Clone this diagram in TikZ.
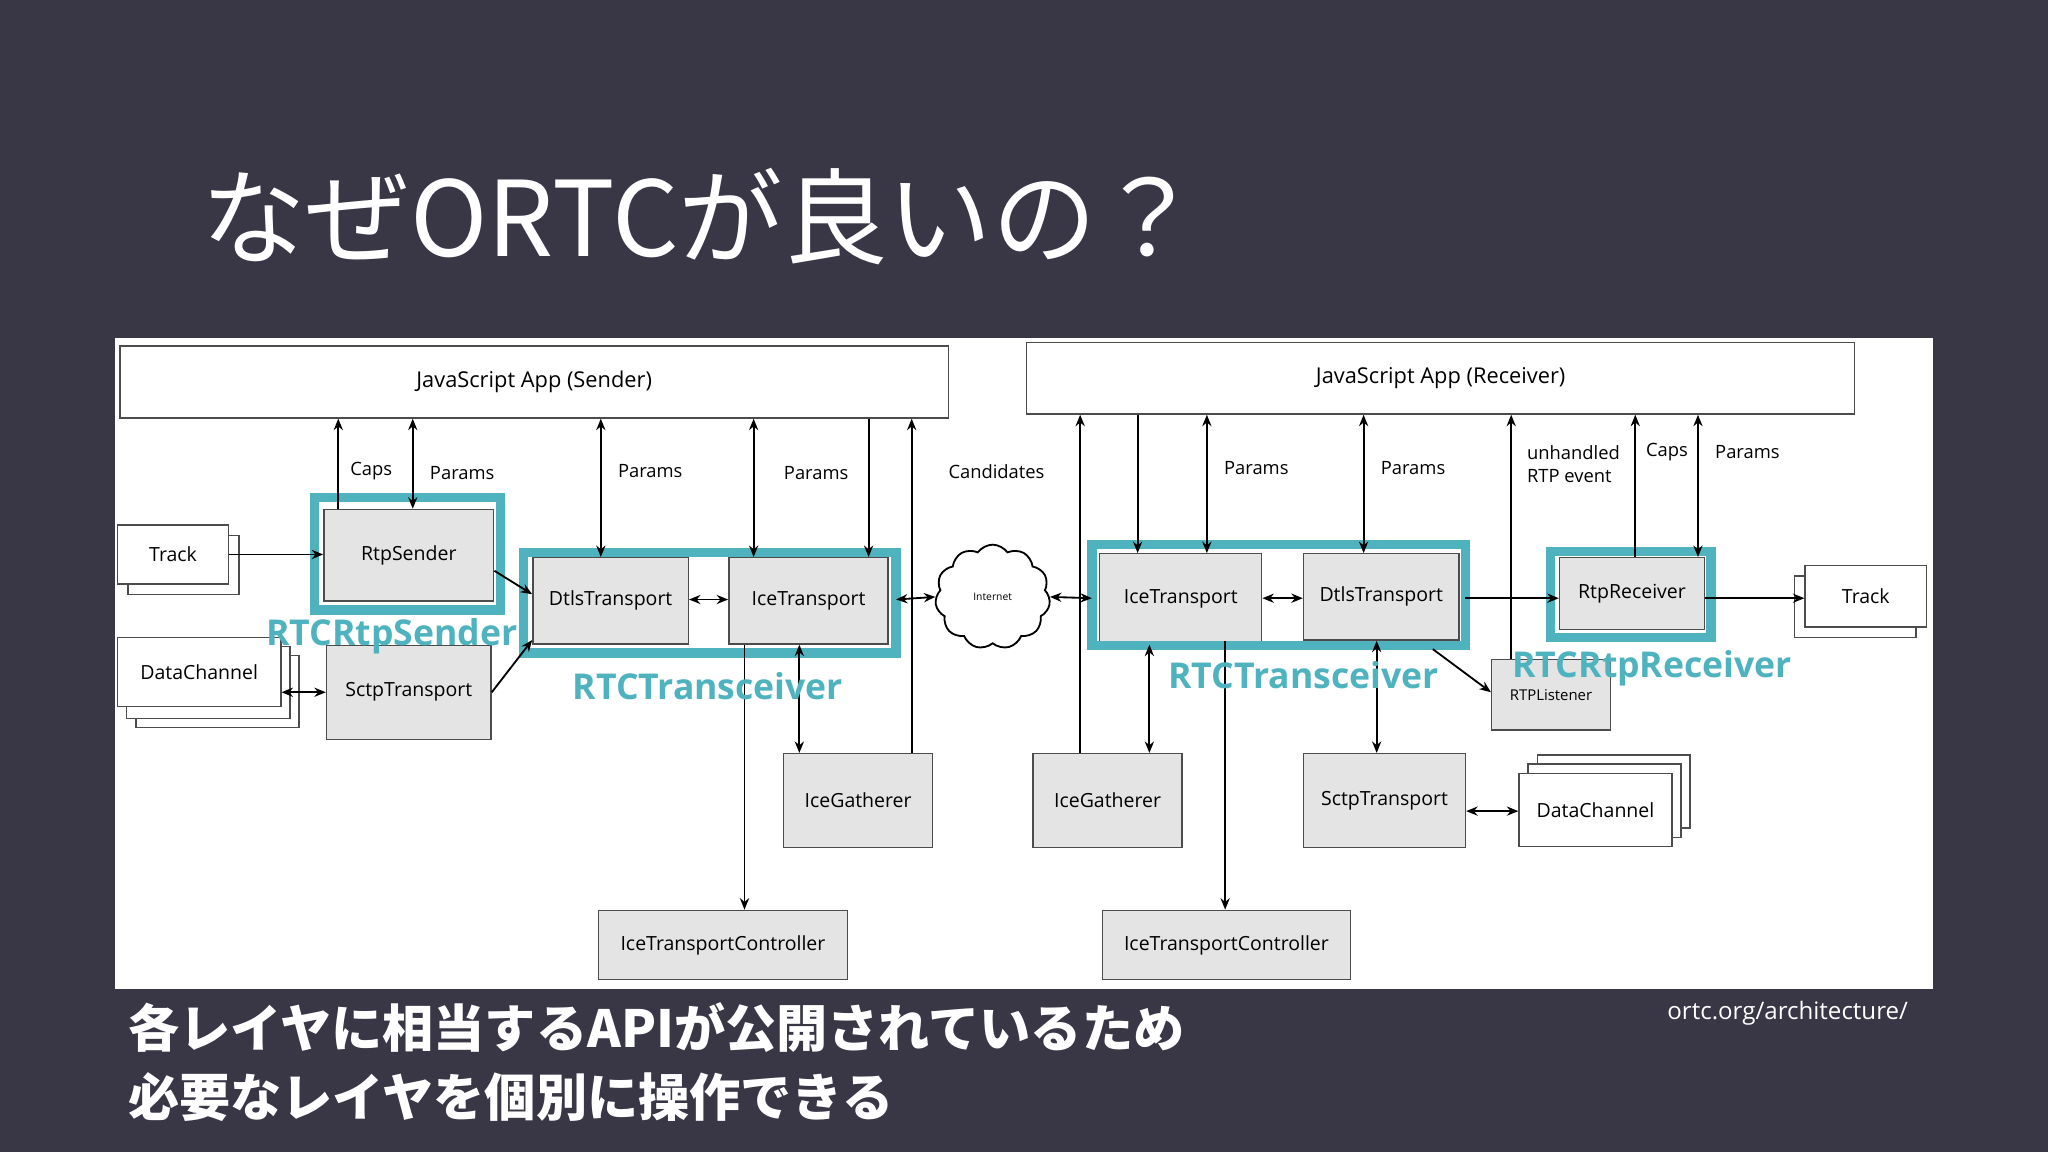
\documentclass[tikz,border=0pt]{standalone}
\usepackage{fontspec}
\setmainfont{Open Sans}
\newfontfamily\cjk{Noto Sans CJK JP}
\usetikzlibrary{arrows.meta,shapes.symbols}
\definecolor{bg}{HTML}{393646}
\definecolor{teal}{HTML}{4FB3BF}
\definecolor{gbox}{HTML}{E4E4E4}
\begin{document}
\begin{tikzpicture}[x=0.02cm,y=-0.02cm,>={Stealth[length=5pt,width=4pt]},
 box/.style={draw=black!70,fill=gbox,line width=0.6pt,inner sep=0pt,font=\fontsize{8.5}{10}\selectfont},
 wbox/.style={box,fill=white},
 tl/.style={draw=teal,line width=4pt,fill=none},
 tt/.style={text=teal,font=\bfseries\fontsize{15.5}{18}\selectfont},
 lab/.style={font=\fontsize{8}{10}\selectfont,align=left},
 ln/.style={line width=0.8pt}]
\newcommand\bx[7][box]{\node[#1,minimum width={(#5-#3)*0.02cm},minimum height={(#6-#4)*0.02cm}] (#2) at ({(#3+#5)/2},{(#4+#6)/2}) {#7};}
\fill[bg] (0,0) rectangle (1568,882);
\useasboundingbox (0,0) rectangle (1568,882);
\fill[white] (88,259) rectangle (1480,757);
\node[anchor=west,text=white,font=\cjk\fontsize{45.5}{50}\selectfont] (title) at (148,166) {なぜORTCが良いの？};
% apps
\bx[wbox]{app}{92}{265}{726}{320}{\fontsize{9.5}{11}\selectfont JavaScript App (Sender)}
\bx[wbox]{appr}{786}{262}{1420}{317}{\fontsize{9.5}{11}\selectfont JavaScript App (Receiver)}
% sender side
\bx[wbox]{trs}{98}{410}{183}{455}{}
\bx[wbox]{tr}{90}{402}{175}{447}{Track}
\bx[wbox]{dc3}{104}{502}{229}{557}{}
\bx[wbox]{dc2}{97}{495}{222}{550}{}
\bx[wbox]{dc}{90}{488}{215}{541}{DataChannel}
\bx{rs}{248}{390}{378}{460}{RtpSender}
\draw[tl] (241,381) rectangle (383,467);
\bx{sctp}{250}{494}{376}{566}{SctpTransport}
\bx{dtls}{408}{427}{527}{493}{DtlsTransport}
\bx{ice}{558}{427}{680}{493}{IceTransport}
\draw[tl] (401,423) rectangle (686,500);
\bx{ig}{600}{577}{714}{649}{IceGatherer}
\bx{itc}{458}{697}{649}{750}{IceTransportController}
\node[cloud,draw,line width=0.8pt,cloud puffs=11,cloud puff arc=110,aspect=1.2,minimum width=88*0.02cm,minimum height=80*0.02cm,inner sep=0pt,font=\fontsize{4.5}{5}\selectfont] (net) at (760,457) {Internet};
% receiver side
\bx{icer}{842}{424}{966}{493}{IceTransport}
\bx{dtlsr}{998}{424}{1117}{490}{DtlsTransport}
\draw[tl] (836,417) rectangle (1122,494);
\bx[box]{rr}{1194}{427}{1305}{482}{RtpReceiver}
\draw[tl] (1187,422) rectangle (1310,488);
\bx[wbox]{trrs}{1374}{441}{1467}{488}{}
\bx[wbox]{trr}{1382}{433}{1475}{480}{Track}
\bx{rl}{1142}{505}{1233}{559}{\fontsize{6.5}{8}\selectfont RTPListener}
\bx{igr}{791}{577}{905}{649}{IceGatherer}
\bx{sctpr}{998}{577}{1122}{649}{SctpTransport}
\bx[wbox]{dcr3}{1177}{578}{1294}{634}{}
\bx[wbox]{dcr2}{1170}{585}{1287}{641}{}
\bx[wbox]{dcr}{1163}{592}{1280}{648}{DataChannel}
\bx{itcr}{844}{697}{1034}{750}{IceTransportController}
% vertical arrows sender
\draw[ln,->] (rs.north -| 259,0) -- (app.south -| 259,0);
\draw[ln,<->] (app.south -| 316,0) -- (rs.north -| 316,0);
\draw[ln,<->] (app.south -| 460,0) -- (dtls.north -| 460,0);
\draw[ln,<->] (app.south -| 577,0) -- (ice.north -| 577,0);
\draw[ln,->] (app.south -| 665,0) -- (ice.north -| 665,0);
\draw[ln,->] (ig.north -| 698,0) -- (app.south -| 698,0);
\draw[ln,<->] (ice.south -| 612,0) -- (ig.north -| 612,0);
\draw[ln,->] (ice.south -| 570,0) -- (itc.north -| 570,0);
% labels sender
\node[lab,anchor=west] (l1) at (262,361) {Caps};
\node[lab,anchor=west] (l2) at (323,362) {Params};
\node[lab,anchor=west] (l3) at (467,361) {Params};
\node[lab,anchor=west] (l4) at (594,362) {Params};
\node[lab,anchor=west] (l5) at (720,361) {Candidates};
% horizontal sender
\draw[ln,->] (tr.east) -- (rs.west |- tr.east);
\draw[ln,<->] (dc.east |- 0,530) -- (sctp.west |- 0,530);
\draw[ln,->] (rs.east |- 0,437) -- (dtls.west |- 0,455);
\draw[ln,->] (sctp.east |- 0,530) -- (dtls.west |- 0,490);
\draw[ln,<->] (dtls.east |- 0,459) -- (ice.west |- 0,459);
\draw[ln,<->] (686,459) -- (net.west);
\draw[ln,<->] (net.east) -- (836,458);
% receiver verticals
\draw[ln,->] (igr.north -| 827,0) -- (appr.south -| 827,0);
\draw[ln,->] (appr.south -| 871,0) -- (icer.north -| 871,0);
\draw[ln,<->] (appr.south -| 924,0) -- (icer.north -| 924,0);
\draw[ln,<->] (appr.south -| 1044,0) -- (dtlsr.north -| 1044,0);
\draw[ln,->] (rl.north -| 1157,0) -- (appr.south -| 1157,0);
\draw[ln,->] (rr.north -| 1252,0) -- (appr.south -| 1252,0);
\draw[ln,<->] (appr.south -| 1300,0) -- (rr.north -| 1300,0);
\draw[ln,<->] (icer.south -| 880,0) -- (igr.north -| 880,0);
\draw[ln,->] (dtlsr.south -| 938,0) -- (itcr.north -| 938,0);
\draw[ln,<->] (dtlsr.south -| 1054,0) -- (sctpr.north -| 1054,0);
\node[lab,anchor=west] (r1) at (931,358) {Params};
\node[lab,anchor=west] (r2) at (1051,358) {Params};
\node[lab,anchor=west] (r3) at (1163,355) {unhandled\\RTP event};
\node[lab,anchor=west] (r4) at (1254,346) {Caps};
\node[lab,anchor=west] (r5) at (1307,346) {Params};
% horizontal receiver
\draw[ln,<->] (icer.east |- 0,458) -- (dtlsr.west |- 0,458);
\draw[ln,->] (1122,458) -- (rr.west |- 0,458);
\draw[ln,->] (rr.east |- 0,458) -- (trr.west |- 0,458);
\draw[ln,->] (1097,497) -- (rl.west |- 0,530);
\draw[ln,<->] (sctpr.east |- 0,621) -- (dcr.west |- 0,621);
% teal labels
\node[tt] (t1) at (300,487) {RTCRtpSender};
\node[tt] (t2) at (542,525) {RTCTransceiver};
\node[tt] (t3) at (998,517) {RTCTransceiver};
\node[tt] (t4) at (1265,512) {RTCRtpReceiver};
% bottom
\node[anchor=west,text=white,font=\cjk\bfseries\fontsize{22.3}{30}\selectfont,align=left] (b1) at (92,813) {各レイヤに相当するAPIが公開されているため\\必要なレイヤを個別に操作できる};
\node[anchor=east,text=white,font=\fontsize{10.5}{12}\selectfont] (src) at (1467,776) {ortc.org/architecture/};
\end{tikzpicture}
\end{document}
